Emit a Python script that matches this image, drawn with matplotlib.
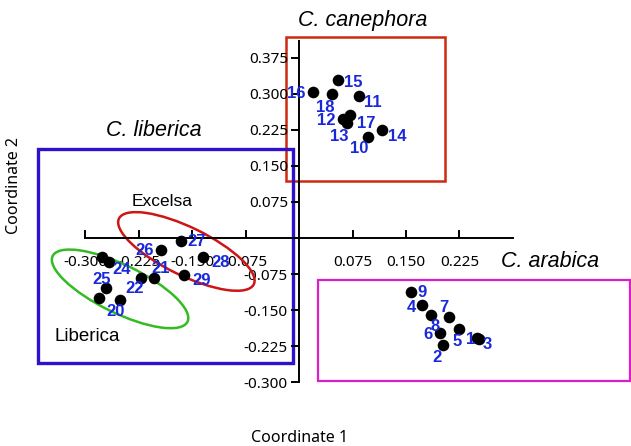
import matplotlib
matplotlib.use("Agg")
import matplotlib.pyplot as plt
from matplotlib import transforms
from matplotlib.patches import Ellipse, Rectangle

plt.rcParams['font.family'] = ['Noto Sans', 'DejaVu Sans']
ARIAL = ['Liberation Sans', 'DejaVu Sans']

# PCoA coordinates (sample id, coord 1, coord 2)
arabica_ids = ['9', '4', '8', '7', '6', '5', '2', '1', '3']
arabica_x = [0.157, 0.173, 0.185, 0.210, 0.198, 0.225, 0.202, 0.250, 0.253]
arabica_y = [-0.112, -0.140, -0.160, -0.164, -0.197, -0.190, -0.223, -0.209, -0.211]

canephora_ids = ['15', '16', '18', '11', '17', '12', '13', '14', '10']
canephora_x = [0.054, 0.020, 0.046, 0.084, 0.072, 0.062, 0.067, 0.116, 0.097]
canephora_y = [0.329, 0.304, 0.300, 0.296, 0.256, 0.247, 0.239, 0.226, 0.211]

liberica_ids = ['19', '24', '25', '23', '20', '22', '21']
liberica_x = [-0.277, -0.267, -0.271, -0.281, -0.251, -0.222, -0.203]
liberica_y = [-0.039, -0.051, -0.105, -0.126, -0.129, -0.083, -0.084]

excelsa_ids = ['26', '27', '28', '29']
excelsa_x = [-0.193, -0.166, -0.134, -0.161]
excelsa_y = [-0.026, -0.006, -0.039, -0.077]

# label offsets in pixels (dx, dy), None = label hidden under other marks
offsets = {
    '9': (11, 1), '4': (-11, 2), '8': (4, 12), '7': (-5, -9), '6': (-12, 2),
    '5': (-2, 12), '2': (-6, 12), '1': (-7, 1), '3': (8, 5),
    '15': (16, 2), '16': (-17, 1), '18': (-7, 14), '11': (14, 7),
    '17': (16, 8), '12': (-17, 1), '13': (-8, 13), '14': (16, 7), '10': (-9, 12),
    '19': None, '24': (13, 7), '25': (-4, -9), '23': None, '20': (-5, 12),
    '22': (-6, 11), '21': (6, -10),
    '26': (-17, 0), '27': (16, 1), '28': (17, 6), '29': (17, 6),
}

xticks = [-0.300, -0.225, -0.150, -0.075, 0.075, 0.150, 0.225]
yticks = [-0.300, -0.225, -0.150, -0.075, 0.075, 0.150, 0.225, 0.300, 0.375]

fig = plt.figure(figsize=(6.31, 4.46), dpi=100)
ax = fig.add_axes([0, 0, 1, 1])
ax.set_xlim(-0.4194, 0.4656)
ax.set_ylim(-0.4333, 0.4958)

ax.spines['top'].set_visible(False)
ax.spines['right'].set_visible(False)
ax.spines['left'].set_position(('data', 0))
ax.spines['bottom'].set_position(('data', 0))
ax.spines['left'].set_bounds(-0.300, 0.41)
ax.spines['bottom'].set_bounds(-0.300, 0.300)
for s in ('left', 'bottom'):
    ax.spines[s].set_linewidth(1.4)

ax.set_xticks(xticks)
ax.set_xticklabels(['%.3f' % v for v in xticks])
ax.set_yticks(yticks)
ax.set_yticklabels(['%.3f' % v for v in yticks])
ax.tick_params(axis='x', direction='in', length=6, width=1.4, pad=12, labelsize=11)
ax.tick_params(axis='y', direction='out', length=6, width=1.4, pad=2, labelsize=11)

# group boxes
boxes = [
    ((-0.018, 0.119), 0.223, 0.300, '#cc2a10', 1.8),
    ((-0.366, -0.260), 0.358, 0.445, '#3010cc', 2.4),
    ((0.027, -0.298), 0.437, 0.2105, '#d81fc8', 1.6),
]
for (x0, y0), w, h, col, lw in boxes:
    ax.add_patch(Rectangle((x0, y0), w, h, fill=False, edgecolor=col,
                           linewidth=lw, clip_on=False, zorder=1))

# ellipses drawn in inches around a data centre
for cx, cy, col in [(-0.158, -0.028, '#cc1515'), (-0.251, -0.106, '#33bb22')]:
    trans = fig.dpi_scale_trans + transforms.ScaledTranslation(cx, cy, ax.transData)
    ax.add_patch(Ellipse((0, 0), 1.50, 0.48, angle=-26, fill=False,
                         edgecolor=col, linewidth=1.8, transform=trans, zorder=2))

groups = [
    (arabica_ids, arabica_x, arabica_y),
    (canephora_ids, canephora_x, canephora_y),
    (liberica_ids, liberica_x, liberica_y),
    (excelsa_ids, excelsa_x, excelsa_y),
]
for ids, xs, ys in groups:
    ax.scatter(xs, ys, s=70, color='black', zorder=4, linewidths=0)
    for lab, x, y in zip(ids, xs, ys):
        off = offsets[lab]
        if off is None:
            continue
        ax.annotate(lab, (x, y), xytext=(off[0], -off[1]),
                    textcoords='offset pixels', ha='center', va='center',
                    color='#1a28dc', fontsize=12, fontweight='bold',
                    family=ARIAL, zorder=5)

ax.text(0.089, 0.454, 'C. canephora', style='italic', fontsize=15.5,
        ha='center', va='center', family=ARIAL)
ax.text(-0.204, 0.224, 'C. liberica', style='italic', fontsize=15.5,
        ha='center', va='center', family=ARIAL)
ax.text(0.352, -0.048, 'C. arabica', style='italic', fontsize=15.5,
        ha='center', va='center', family=ARIAL)
ax.text(-0.192, 0.077, 'Excelsa', fontsize=12.5, ha='center', va='center',
        family=ARIAL)
ax.text(-0.297, -0.206, 'Liberica', fontsize=13.5, ha='center', va='center',
        family=ARIAL)

fig.text(300 / 631, 1 - 438 / 446, 'Coordinate 1', fontsize=11.5,
         ha='center', va='center')
fig.text(14 / 631, 1 - 185 / 446, 'Coordinate 2', fontsize=11.5,
         ha='center', va='center', rotation=90)

fig.savefig('out.png', dpi=100)
